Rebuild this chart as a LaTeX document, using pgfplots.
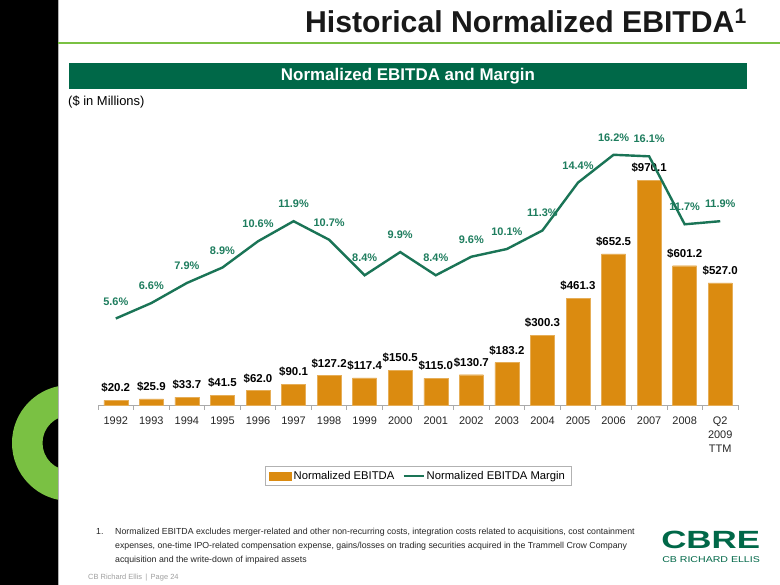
\documentclass[border=0pt]{standalone}
\usepackage{pgfplots}
\pgfplotsset{compat=1.18}
\usepackage{fontspec}
\setmainfont{Liberation Sans}
\definecolor{barorange}{RGB}{219,139,16}
\definecolor{linegreen}{RGB}{26,116,86}
\definecolor{labgreen}{RGB}{30,125,94}
\definecolor{bannergreen}{RGB}{0,104,72}
\definecolor{ringgreen}{RGB}{122,193,67}
\definecolor{axisgray}{RGB}{170,170,170}
\pgfplotsset{/pgf/number format/assume math mode=true}
\begin{document}
\begin{tikzpicture}
\begin{scope}[x=1bp,y=1bp]
\useasboundingbox (0,0) rectangle (780,585);
\fill[white] (0,0) rectangle (780,585);
% left black band and ring
\fill[black] (0,0) rectangle (58,585);
\begin{scope}
\clip (0,0) rectangle (58,585);
\fill[ringgreen, even odd rule] (70,142) circle (58) (70,142) circle (27.5);
\end{scope}
\draw[gray!60, line width=0.6bp] (58.3,0) -- (58.3,585);
% title
\draw[ringgreen, line width=2bp] (58,542) -- (780,542);
\node[anchor=base east, inner sep=0, text=black!90, font=\fontsize{30.3}{32}\selectfont\bfseries] at (747,552) {Historical Normalized EBITDA\textsuperscript{1}};
% banner
\fill[bannergreen] (69,522) rectangle (747,496);
\node[text=white, font=\fontsize{17}{19}\selectfont\bfseries] at (408,509) {Normalized EBITDA and Margin};
\node[anchor=west, inner sep=0, font=\fontsize{13}{15}\selectfont] at (68,483) {(\$ in Millions)};
% footnote
\begin{scope}[every node/.style={anchor=base west, inner sep=0, font=\fontsize{8.8}{10}\selectfont, text=black!85}]
\node at (96,50) {1.};
\node at (115,50) {Normalized EBITDA excludes merger-related and other non-recurring costs, integration costs related to acquisitions, cost containment};
\node at (115,36) {expenses, one-time IPO-related compensation expense, gains/losses on trading securities acquired in the Trammell Crow Company};
\node at (115,22) {acquisition and the write-down of impaired assets};
\end{scope}
\node[anchor=base west, inner sep=0, font=\fontsize{7.5}{9}\selectfont, text=gray!75] at (88,5) {CB Richard Ellis \,|\, Page 24};
% logo
\node[anchor=base west, inner sep=0, text=bannergreen, font=\fontsize{25}{26}\selectfont\bfseries, xscale=1.4] at (661,36) {CBRE};
\node[anchor=base west, inner sep=0, text=bannergreen, font=\fontsize{8.5}{9}\selectfont, xscale=1.25] at (662,22) {CB RICHARD ELLIS};
\end{scope}

% bars
\begin{axis}[
  at={(98bp,180bp)}, anchor=south west,
  scale only axis, width=640bp, height=278bp,
  xmin=-0.5, xmax=17.5, ymin=0, ymax=1200,
  axis x line*=bottom, hide y axis,
  x axis line style={-, draw=axisgray, line width=0.8bp},
  xtick={0,...,17},
  xticklabels={1992,1993,1994,1995,1996,1997,1998,1999,2000,2001,2002,2003,2004,2005,2006,2007,2008,{Q2\\2009\\TTM}},
  major tick length=0pt,
  minor xtick={-0.5,0.5,1.5,2.5,3.5,4.5,5.5,6.5,7.5,8.5,9.5,10.5,11.5,12.5,13.5,14.5,15.5,16.5,17.5},
  minor tick length=5bp, tick align=outside,
  minor tick style={draw=axisgray, line width=0.8bp},
  xticklabel style={font=\fontsize{11}{14}\selectfont, align=center, text=black!85, anchor=north, yshift=-8bp},
  ybar, bar width=24bp,
  nodes near coords={\$\pgfmathprintnumber[fixed,fixed zerofill,precision=1]{\pgfplotspointmeta}},
  every node near coord/.append style={font=\fontsize{11.5}{13}\selectfont\bfseries, text=black, anchor=base, yshift=8.5bp},
  clip=false,
]
\addplot[fill=barorange, draw=barorange!70!white, line width=0.4bp] coordinates {
(0,20.2) (1,25.9) (2,33.7) (3,41.5) (4,62.0) (5,90.1) (6,127.2) (7,117.4) (8,150.5)
(9,115.0) (10,130.7) (11,183.2) (12,300.3) (13,461.3) (14,652.5) (15,970.1) (16,601.2) (17,527.0)};
\end{axis}

% margin line
\begin{axis}[
  at={(98bp,180bp)}, anchor=south west,
  scale only axis, width=640bp, height=278bp,
  xmin=-0.5, xmax=17.5, ymin=0, ymax=18,
  hide x axis, hide y axis,
  clip=false,
  nodes near coords={\pgfmathprintnumber[fixed,fixed zerofill,precision=1]{\pgfplotspointmeta}\%},
  every node near coord/.append style={font=\fontsize{11}{13}\selectfont\bfseries, text=labgreen, anchor=base, yshift=13.5bp},
  legend style={at={(0.5,-0.255)}, anchor=center, legend columns=2, draw=gray!60, line width=0.6bp,
    font=\fontsize{11.3}{13}\selectfont, inner xsep=4bp, inner ysep=2.5bp,
    /tikz/every even column/.append style={column sep=6bp}},
  legend cell align=left,
]
\addlegendimage{legend image code/.code={\fill[barorange] (0bp,-4bp) rectangle (22bp,4bp);}}
\addlegendentry{Normalized EBITDA}
\addplot[linegreen, line width=2.4bp, mark=none, legend image code/.code={\draw[linegreen, line width=2.4bp] (0bp,0bp) -- (20bp,0bp);}] coordinates {
(0,5.6) (1,6.6) (2,7.9) (3,8.9) (4,10.6) (5,11.9) (6,10.7) (7,8.4) (8,9.9)
(9,8.4) (10,9.6) (11,10.1) (12,11.3) (13,14.4) (14,16.2) (15,16.1) (16,11.7) (17,11.9)};
\addlegendentry{Normalized EBITDA Margin}
\end{axis}
\end{tikzpicture}
\end{document}
